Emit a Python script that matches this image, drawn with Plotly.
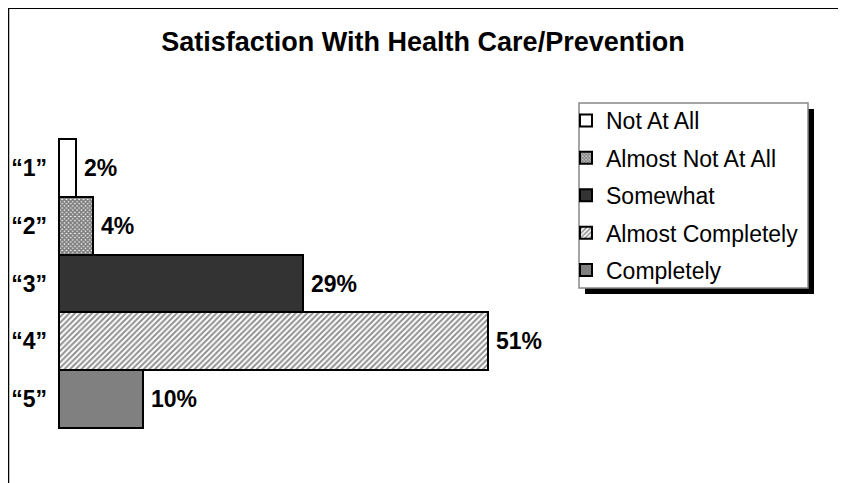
import plotly.graph_objects as go

categories = ["\u201c1\u201d", "\u201c2\u201d", "\u201c3\u201d", "\u201c4\u201d", "\u201c5\u201d"]
series_names = ["Not At All", "Almost Not At All", "Somewhat", "Almost Completely", "Completely"]
values = [2, 4, 29, 51, 10]
value_labels = ["2%", "4%", "29%", "51%", "10%"]
title_text = "Satisfaction With Health Care/Prevention"

# The page body has an 8px margin, so the figure is sized to fill the rest of the window.
OFF = 8
W, H = 838, 475
L, R, T, B = 50, 282, 130, 54
PW, PH = W - L - R, H - T - B


def px(xpage):
    return (xpage - OFF - L) / PW


def py(ypage):
    return 1 - (ypage - OFF - T) / PH


styles = [
    dict(color="#ffffff", pattern=None),
    dict(color="#ffffff", pattern=dict(shape="x", fgcolor="#000000", bgcolor="#ffffff", size=3, solidity=0.8)),
    dict(color="#333333", pattern=None),
    dict(color="#ffffff", pattern=dict(shape="/", fgcolor="#222222", bgcolor="#ffffff", size=4, solidity=0.5)),
    dict(color="#808080", pattern=None),
]

FONT = "Arial, Liberation Sans, sans-serif"

fig = go.Figure()
for i, (cat, name, val) in enumerate(zip(categories, series_names, values)):
    st = styles[i]
    marker = dict(color=st["color"], line=dict(color="#000000", width=2))
    if st["pattern"]:
        marker["pattern"] = st["pattern"]
    fig.add_trace(go.Bar(
        x=[val], y=[cat], orientation="h", name=name, marker=marker,
        legendgroup=name, hoverinfo="skip", cliponaxis=False,
    ))

annotations = []
for cat, val, lab in zip(categories, values, value_labels):
    annotations.append(dict(
        x=val, y=cat, xref="x", yref="y", text=lab, showarrow=False,
        xanchor="left", yanchor="middle", xshift=6,
        font=dict(family=FONT, size=23, color="#000000", weight="bold"),
    ))

shapes = [
    # outer frame (left and top)
    dict(type="line", xref="paper", yref="paper", x0=px(8), x1=px(8), y0=py(6.5), y1=py(490),
         line=dict(color="#000000", width=2.5), layer="above"),
    dict(type="line", xref="paper", yref="paper", x0=px(7), x1=px(850), y0=py(7.5), y1=py(7.5),
         line=dict(color="#000000", width=3), layer="above"),
    # legend shadow and box
    dict(type="rect", xref="paper", yref="paper", x0=px(585), x1=px(814), y0=py(109), y1=py(294),
         fillcolor="#000000", line=dict(width=0), layer="above"),
    dict(type="rect", xref="paper", yref="paper", x0=px(579), x1=px(808), y0=py(103), y1=py(288),
         fillcolor="#ffffff", line=dict(color="#888888", width=1.5), layer="above"),
]

fig.update_layout(
    width=W, height=H,
    margin=dict(l=L, r=R, t=T, b=B, autoexpand=False),
    paper_bgcolor="#ffffff", plot_bgcolor="#ffffff",
    barmode="stack", bargap=0,
    title=dict(text=title_text, x=0.5 + (423 - OFF - W / 2) / W, xref="container", xanchor="center",
               y=1 - (42 - OFF) / H, yref="container", yanchor="middle",
               font=dict(family=FONT, size=27, color="#000000", weight="bold")),
    xaxis=dict(range=[-0.15, 60], showgrid=False, zeroline=False, showline=False,
               showticklabels=False, ticks=""),
    yaxis=dict(range=[4.52, -0.52], showgrid=False, zeroline=False, showline=False,
               ticks="", ticklabelstandoff=10,
               tickfont=dict(family=FONT, size=23, color="#000000", weight="bold")),
    legend=dict(x=px(566), y=py(99), xanchor="left", yanchor="top",
                bgcolor="rgba(0,0,0,0)", borderwidth=0,
                font=dict(family=FONT, size=23, color="#000000"),
                tracegroupgap=4.5, traceorder="grouped"),
    showlegend=True,
    annotations=annotations,
    shapes=shapes,
)

fig.write_html("out.html")
